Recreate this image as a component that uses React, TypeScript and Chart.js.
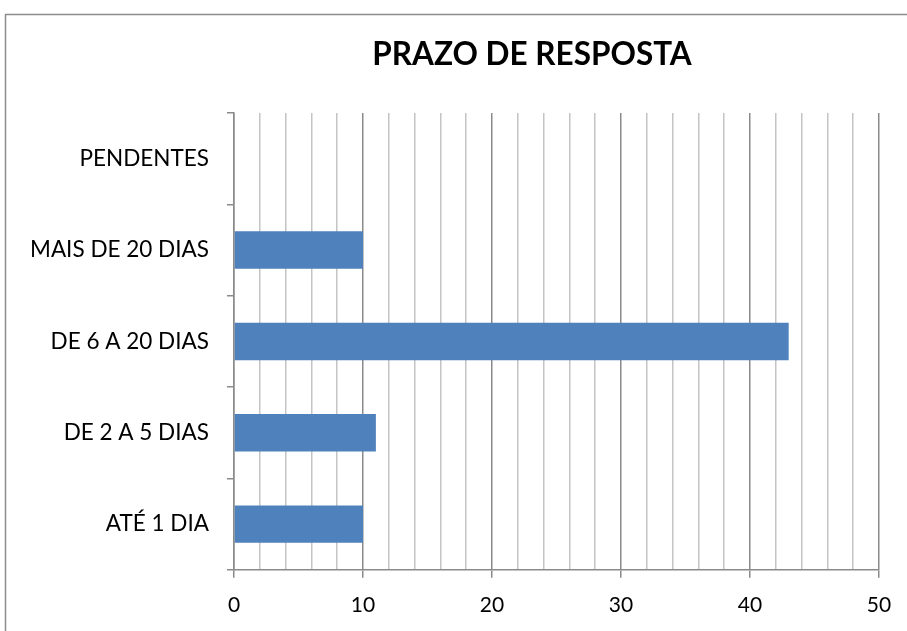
import React, { useEffect, useRef } from "react";
import { Chart, registerables } from "chart.js";

Chart.register(...registerables);

const categories = ["PENDENTES", "MAIS DE 20 DIAS", "DE 6 A 20 DIAS", "DE 2 A 5 DIAS", "ATÉ 1 DIA"];
const values = [0, 10, 43, 11, 10];
const titleText = "PRAZO DE RESPOSTA";
const xMin = 0;
const xMax = 50;
const xStep = 2;
const xLabelStep = 10;

const FONT = "Lato, 'Open Sans', sans-serif";

const framePlugin = {
  id: "frameAndTitle",
  beforeDraw(chart: any) {
    const ctx = chart.ctx;
    ctx.save();
    ctx.fillStyle = "#ffffff";
    ctx.fillRect(0, 0, chart.width, chart.height);
    ctx.strokeStyle = "#8c8c8c";
    ctx.lineWidth = 1.5;
    ctx.beginPath();
    ctx.moveTo(5.5, chart.height + 5);
    ctx.lineTo(5.5, 14.5);
    ctx.lineTo(chart.width + 5, 14.5);
    ctx.stroke();
    ctx.restore();
  },
  afterDraw(chart: any) {
    const ctx = chart.ctx;
    ctx.save();
    ctx.fillStyle = "#000000";
    ctx.font = "bold 31.5px " + FONT;
    ctx.textAlign = "center";
    ctx.textBaseline = "middle";
    ctx.fillText(titleText, 532, 55);
    ctx.restore();
  },
};

export default function App() {
  const ref = useRef<HTMLCanvasElement | null>(null);
  useEffect(() => {
    if (!ref.current) return;
    const chart = new Chart(ref.current, {
      type: "bar",
      data: {
        labels: categories,
        datasets: [
          {
            data: values,
            backgroundColor: "#4f81bd",
            borderWidth: 0,
            barPercentage: 0.41,
            categoryPercentage: 1,
          },
        ],
      },
      options: {
        indexAxis: "y",
        responsive: false,
        animation: false,
        layout: { padding: { top: 113, right: 28, left: 12, bottom: -2 } },
        plugins: {
          legend: { display: false },
          title: { display: false },
          tooltip: { enabled: false },
        },
        scales: {
          x: {
            type: "linear",
            min: xMin,
            max: xMax,
            ticks: {
              stepSize: xStep,
              autoSkip: false,
              maxRotation: 0,
              padding: 15,
              color: "#000",
              font: { size: 21, family: FONT },
              callback: (v: any) => (Number(v) % xLabelStep === 0 ? String(v) : ""),
            },
            grid: {
              color: (c: any) => (c.tick && c.tick.value % xLabelStep === 0 ? "#8a8a8a" : "#c4c4c4"),
              lineWidth: 1.5,
              tickLength: 8,
              tickColor: (c: any) => (c.tick && c.tick.value % xLabelStep === 0 ? "#8a8a8a" : "rgba(0,0,0,0)"),
            },
            border: { color: "#8a8a8a", width: 1.5 },
          },
          y: {
            type: "category",
            offset: true,
            ticks: {
              padding: 18,
              color: "#000",
              font: { size: 22.5, family: FONT },
            },
            grid: {
              offset: true,
              drawOnChartArea: false,
              drawTicks: true,
              tickLength: 7,
              color: "#8a8a8a",
              lineWidth: 1.5,
            },
            border: { color: "#8a8a8a", width: 1.5 },
          },
        },
      },
      plugins: [framePlugin],
    });
    return () => chart.destroy();
  }, []);
  return (
    <div style={{ position: "fixed", left: 0, top: 0, width: 907, height: 631 }}>
      <canvas ref={ref} width={907} height={631} style={{ display: "block" }} />
    </div>
  );
}
